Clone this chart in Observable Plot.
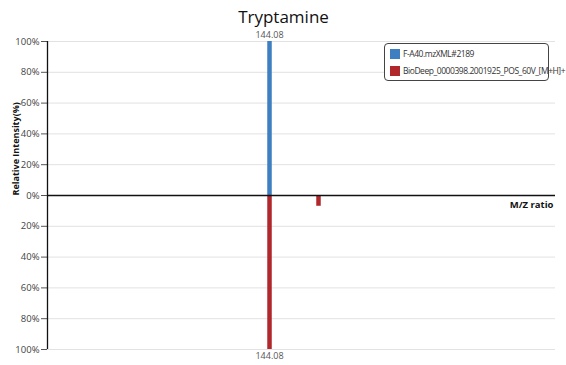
<!DOCTYPE html>
<html>
<head>
<meta charset="utf-8">
<script src="https://cdn.jsdelivr.net/npm/d3@7"></script>
<script src="https://cdn.jsdelivr.net/npm/@observablehq/plot@0.6"></script>
<style>
  html, body { margin: 0; padding: 0; background: #fff; }
  #wrap { position: relative; width: 566px; height: 365px; font-family: "Open Sans", "Noto Sans", sans-serif; }
  #legend { position: absolute; left: 384px; top: 43px; width: 163px; height: 36px; border: 1.3px solid #444; border-radius: 4px; background: #fff; font-size: 8.5px; letter-spacing: -0.45px; color: #333; }
  .item { position: absolute; left: 5px; white-space: nowrap; display: flex; align-items: center; width: max-content; }
  .sw { width: 10px; height: 10px; margin-right: 3px; flex: none; }
</style>
</head>
<body>
<div id="wrap">
  <div id="chart"></div>
  <div id="legend"></div>
</div>
<script>
const title = "Tryptamine";
const seriesNames = ["F-A40.mzXML#2189", "BioDeep_0000398.2001925_POS_60V_[M+H]+"];
const seriesColors = ["#3d7fc1", "#b0282c"];
// query spectrum (top)
const queryMz = [144.08];
const queryIntensity = [100];
// reference spectrum (bottom, drawn mirrored)
const refMz = [144.08, 161.11];
const refIntensity = [100, 7];
const xDomain = [66.9, 243.5];
const yTicks = [-100, -80, -60, -40, -20, 0, 20, 40, 60, 80, 100];

const upperData = queryMz.map((mz, i) => ({mz, v: queryIntensity[i], s: seriesNames[0]}));
const lowerData = refMz.map((mz, i) => ({mz, v: -refIntensity[i], s: seriesNames[1]}));

const plot = Plot.plot({
  width: 566,
  height: 365,
  marginLeft: 47,
  marginRight: 11,
  marginTop: 41,
  marginBottom: 16,
  style: {fontFamily: "'Open Sans', 'Noto Sans', sans-serif", fontSize: "10px", color: "#555"},
  x: {domain: xDomain, axis: null},
  y: {domain: [-100, 100], ticks: yTicks, tickFormat: d => Math.abs(d) + "%", label: null},
  color: {domain: seriesNames, range: seriesColors},
  marks: [
    Plot.gridY(yTicks, {stroke: "#e2e2e2", strokeOpacity: 1}),
    Plot.axisY(yTicks, {tickSize: 6, tickPadding: 2, stroke: "#555", tickFormat: d => Math.abs(d) + "%", fill: "#444", fontSize: 9.5, label: null}),
    Plot.ruleX(upperData, {x: "mz", y1: 0, y2: "v", stroke: "s", strokeWidth: 4.5}),
    Plot.ruleX(lowerData, {x: "mz", y1: 0, y2: "v", stroke: "s", strokeWidth: 4.5}),
    Plot.ruleY([0], {stroke: "#111", strokeWidth: 1.3}),
    Plot.ruleX([xDomain[0]], {y1: -100, y2: 100, stroke: "#111", strokeWidth: 1.3}),
    Plot.text(upperData.filter(d => d.v >= 50), {x: "mz", y: "v", text: d => d.mz.toFixed(2), dy: -6, fill: "#555", fontSize: 9}),
    Plot.text(lowerData.filter(d => d.v <= -50), {x: "mz", y: "v", text: d => d.mz.toFixed(2), dy: 7, fill: "#555", fontSize: 9}),
    Plot.text([title], {frameAnchor: "top", dx: -18, dy: -19, lineAnchor: "bottom", fontSize: 17, fill: "#111", text: d => d}),
    Plot.text(["M/Z ratio"], {frameAnchor: "right", dx: -2, dy: 9, textAnchor: "end", fontWeight: "bold", fontSize: 9.5, fill: "#111", text: d => d}),
    Plot.text(["Relative Intensity(%)"], {frameAnchor: "left", dx: -31, rotate: -90, fontWeight: "bold", fontSize: 9, fill: "#111", text: d => d})
  ]
});
document.getElementById("chart").appendChild(plot);

const legend = document.getElementById("legend");
seriesNames.forEach((n, i) => {
  const it = document.createElement("div");
  it.className = "item";
  it.style.top = (4 + i * 17) + "px";
  it.innerHTML = `<span class="sw" style="background:${seriesColors[i]}"></span><span>${n}</span>`;
  legend.appendChild(it);
});
</script>
</body>
</html>
